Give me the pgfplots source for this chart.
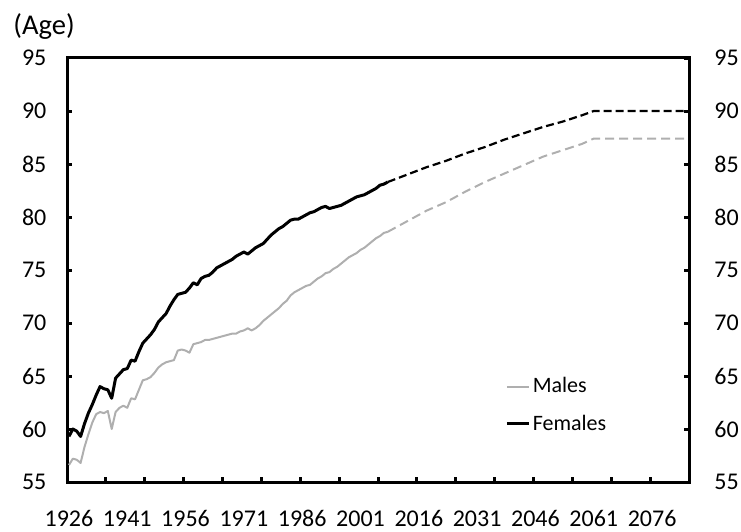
\documentclass[border=0pt]{standalone}
\usepackage{fontspec}
\setmainfont{Carlito}
\usepackage{pgfplots}
\usepackage{pgfplotstable}
\pgfplotsset{compat=1.18}
\usetikzlibrary{calc}
\definecolor{mgray}{RGB}{175,175,175}

\pgfplotstableread{
year val
1926 59.3
1927 60.0
1928 59.8
1929 59.3
1930 60.5
1931 61.5
1932 62.3
1933 63.2
1934 64.0
1935 63.8
1936 63.7
1937 62.9
1938 64.8
1939 65.2
1940 65.6
1941 65.7
1942 66.5
1943 66.4
1944 67.3
1945 68.1
1946 68.5
1947 68.9
1948 69.4
1949 70.1
1950 70.5
1951 70.9
1952 71.6
1953 72.2
1954 72.7
1955 72.8
1956 72.9
1957 73.3
1958 73.8
1959 73.6
1960 74.2
1961 74.4
1962 74.5
1963 74.8
1964 75.2
1965 75.4
1966 75.6
1967 75.8
1968 76.0
1969 76.3
1970 76.5
1971 76.7
1972 76.5
1973 76.8
1974 77.1
1975 77.3
1976 77.5
1977 77.9
1978 78.3
1979 78.6
1980 78.9
1981 79.1
1982 79.4
1983 79.7
1984 79.8
1985 79.8
1986 80.0
1987 80.2
1988 80.4
1989 80.5
1990 80.7
1991 80.9
1992 81.0
1993 80.8
1994 80.9
1995 81.0
1996 81.1
1997 81.3
1998 81.5
1999 81.7
2000 81.9
2001 82.0
2002 82.1
2003 82.3
2004 82.5
2005 82.7
2006 83.0
2007 83.1
2008 83.3
}\femA

\pgfplotstableread{
year val
1926 56.6
1927 57.2
1928 57.1
1929 56.8
1930 58.3
1931 59.5
1932 60.6
1933 61.4
1934 61.6
1935 61.5
1936 61.7
1937 60.0
1938 61.6
1939 62.0
1940 62.2
1941 62.0
1942 62.9
1943 62.8
1944 63.7
1945 64.6
1946 64.7
1947 64.9
1948 65.3
1949 65.8
1950 66.1
1951 66.3
1952 66.4
1953 66.5
1954 67.4
1955 67.5
1956 67.4
1957 67.2
1958 68.0
1959 68.1
1960 68.2
1961 68.4
1962 68.4
1963 68.5
1964 68.6
1965 68.7
1966 68.8
1967 68.9
1968 69.0
1969 69.0
1970 69.2
1971 69.3
1972 69.5
1973 69.3
1974 69.5
1975 69.8
1976 70.2
1977 70.5
1978 70.8
1979 71.1
1980 71.4
1981 71.8
1982 72.1
1983 72.6
1984 72.9
1985 73.1
1986 73.3
1987 73.5
1988 73.6
1989 73.9
1990 74.2
1991 74.4
1992 74.7
1993 74.8
1994 75.1
1995 75.3
1996 75.6
1997 75.9
1998 76.2
1999 76.4
2000 76.6
2001 76.9
2002 77.1
2003 77.4
2004 77.7
2005 78.0
2006 78.2
2007 78.5
2008 78.6
}\malA

\pgfplotstableread{
year val
2008 83.3
2013 84.0
2018 84.7
2023 85.3
2028 86.0
2033 86.6
2038 87.3
2043 87.9
2048 88.5
2053 89.0
2058 89.6
2061 90.0
2085 90.0
}\femP

\pgfplotstableread{
year val
2008 78.6
2013 79.6
2018 80.6
2023 81.4
2028 82.4
2033 83.3
2038 84.1
2043 84.9
2048 85.7
2053 86.3
2058 86.9
2061 87.4
2085 87.4
}\malP

\begin{document}
\begin{tikzpicture}
\pgfplotsset{
  base/.style={
    scale only axis, width=311pt, height=212pt,
    xmin=1925.5, xmax=2085.5, ymin=55, ymax=95,
    axis line style={line width=1.5pt},
    major tick style={line width=1.5pt, black},
    major tick length=2.5pt,
    tick align=inside,
    font=\fontsize{12}{14}\selectfont,
    /pgf/number format/assume math mode=true,
    ytick={55,60,...,95},
    clip=false,
  }
}
\begin{axis}[base, name=ax,
  xtick pos=bottom, ytick pos=left,
  xtick={1925.5,1935.5,...,2085.5},
  xticklabels={},
  extra x ticks={1926,1941,...,2076},
  extra x tick labels={1926,1941,1956,1971,1986,2001,2016,2031,2046,2061,2076},
  extra x tick style={major tick length=0pt, xticklabel style={anchor=base, yshift=-22pt}},
  yticklabel style={xshift=-6.8pt},
  legend style={draw=none, fill=none, at={(0.6945,0.262)}, anchor=north west,
    nodes={inner sep=1.2pt}, row sep=7pt, font=\fontsize{11}{13}\selectfont},
  legend cell align=left,
  legend image code/.code={\draw[#1] (0pt,0pt) -- (11pt,0pt);},
]
\addplot[mgray, line width=1pt, line join=round] table[x=year,y=val]{\malA};
\addlegendentry{Males}
\addplot[black, line width=1.5pt, line join=round] table[x=year,y=val]{\femA};
\addlegendentry{Females}
\addplot[mgray, line width=1pt, dash pattern=on 4.5pt off 2.5pt, forget plot] table[x=year,y=val]{\malP};
\addplot[black, line width=1.1pt, dash pattern=on 4pt off 2pt, forget plot] table[x=year,y=val]{\femP};
\node[anchor=west, inner sep=0pt, font=\fontsize{14.3}{16}\selectfont] at (rel axis cs:-0.0868,1.0743) {(Age)};
\end{axis}
\begin{axis}[base,
  axis x line=none, axis y line*=right,
  ytick pos=right, yticklabel pos=right,
  yticklabel style={xshift=9.2pt},
]
\addplot[draw=none] coordinates {(1926,60)};
\end{axis}
\pgfresetboundingbox
\useasboundingbox ($(ax.south west)+(-33.5pt,-24.5pt)$) rectangle ($(ax.north east)+(26pt,29pt)$);
\end{tikzpicture}
\end{document}
